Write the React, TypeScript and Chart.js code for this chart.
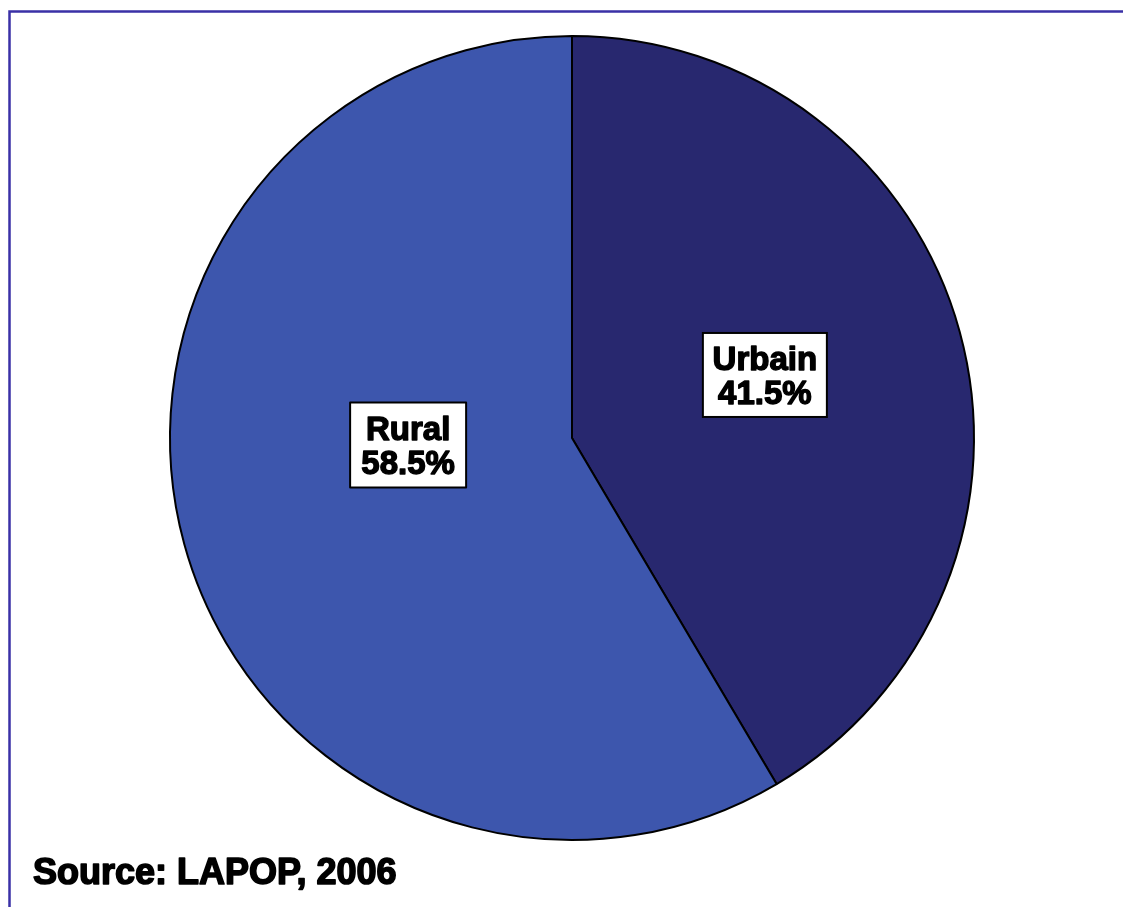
import React, { useEffect, useRef } from "react";
import { Chart, registerables } from "chart.js";

Chart.register(...registerables);

const categories = ["Urbain", "Rural"];
const values = [41.5, 58.5];
const valueLabels = ["41.5%", "58.5%"];
const sourceText = "Source: LAPOP, 2006";

const sliceColors = ["#28286f", "#3d56ad"];

const overlayPlugin = {
  id: "overlay",
  beforeDraw(chart: any) {
    const ctx = chart.ctx;
    ctx.save();
    ctx.fillStyle = "#ffffff";
    ctx.fillRect(0, 0, chart.width, chart.height);
    ctx.strokeStyle = "#3a30a6";
    ctx.lineWidth = 2.5;
    ctx.beginPath();
    ctx.moveTo(9.5, chart.height);
    ctx.lineTo(9.5, 11.5);
    ctx.lineTo(chart.width, 11.5);
    ctx.stroke();
    ctx.restore();
  },
  afterDraw(chart: any) {
    const ctx = chart.ctx;
    const meta = chart.getDatasetMeta(0);
    const shifts = [
      { dx: -1, dy: -10, w: 124, h: 84 },
      { dx: 30, dy: -46, w: 116, h: 85 },
    ];
    ctx.save();
    meta.data.forEach((arc: any, i: number) => {
      const p = arc.tooltipPosition();
      const s = shifts[i];
      const cx = p.x + s.dx;
      const cy = p.y + s.dy;
      ctx.fillStyle = "#ffffff";
      ctx.fillRect(cx - s.w / 2, cy - s.h / 2, s.w, s.h);
      ctx.strokeStyle = "#000000";
      ctx.lineWidth = 2;
      ctx.strokeRect(cx - s.w / 2, cy - s.h / 2, s.w, s.h);
      ctx.fillStyle = "#000000";
      ctx.strokeStyle = "#000000";
      ctx.lineWidth = 1.4;
      ctx.lineJoin = "round";
      ctx.font = "bold 33px 'Liberation Sans', Arial, sans-serif";
      ctx.textAlign = "center";
      ctx.textBaseline = "alphabetic";
      const l1 = categories[i];
      const l2 = valueLabels[i];
      ctx.fillText(l1, cx, cy - 5);
      ctx.strokeText(l1, cx, cy - 5);
      ctx.fillText(l2, cx, cy + 29);
      ctx.strokeText(l2, cx, cy + 29);
    });
    ctx.font = "bold 36px 'Liberation Sans', Arial, sans-serif";
    ctx.textAlign = "left";
    ctx.textBaseline = "alphabetic";
    ctx.lineWidth = 1.6;
    ctx.lineJoin = "round";
    ctx.fillText(sourceText, 33, 884);
    ctx.strokeText(sourceText, 33, 884);
    ctx.restore();
  },
};

export default function App() {
  const ref = useRef<HTMLCanvasElement | null>(null);
  useEffect(() => {
    if (!ref.current) return;
    const chart = new Chart(ref.current, {
      type: "pie",
      data: {
        labels: categories,
        datasets: [
          {
            data: values,
            backgroundColor: sliceColors,
            borderColor: "#000000",
            borderWidth: 2,
            radius: 402,
          } as any,
        ],
      },
      options: {
        animation: false,
        responsive: false,
        layout: { padding: { left: 21, right: 0, top: 0, bottom: 31 } },
        plugins: {
          legend: { display: false },
          tooltip: { enabled: false },
        },
      },
      plugins: [overlayPlugin],
    });
    return () => chart.destroy();
  }, []);
  return (
    <div style={{ position: "absolute", left: 0, top: 0, width: 1123, height: 907 }}>
      <canvas ref={ref} width={1123} height={907} style={{ display: "block" }} />
    </div>
  );
}
